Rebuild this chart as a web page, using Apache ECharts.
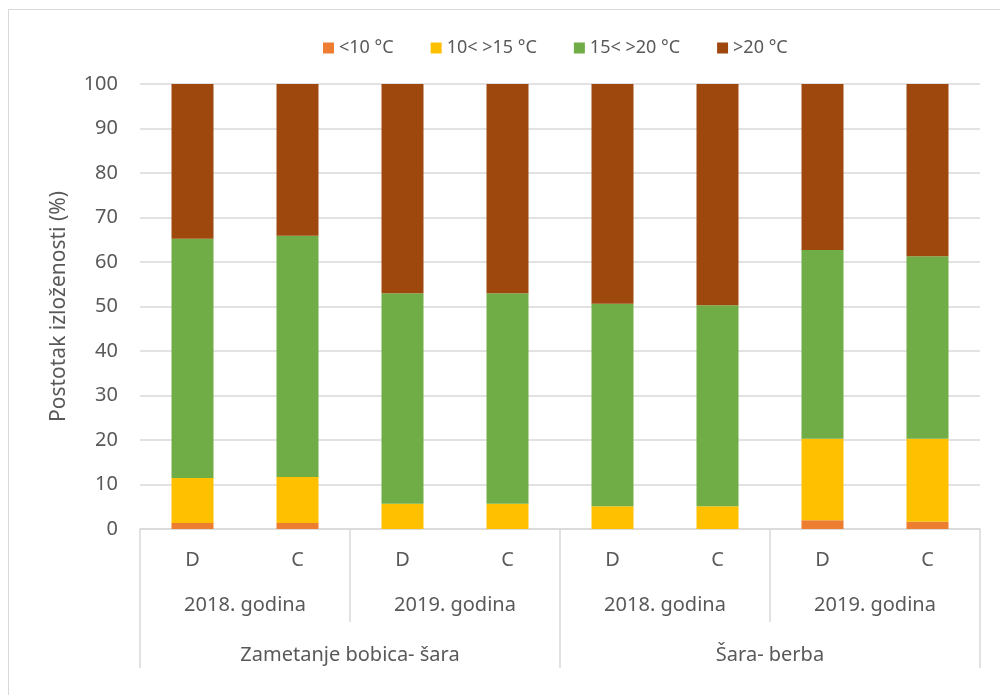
<!DOCTYPE html>
<html>
<head>
<meta charset="utf-8">
<script src="https://cdn.jsdelivr.net/npm/echarts@6/dist/echarts.min.js"></script>
<style>
html,body{margin:0;padding:0;background:#fff;}
#frame{position:absolute;left:8px;top:9px;width:1010px;height:710px;border:1.5px solid #d9d9d9;box-sizing:border-box;}
#chart{position:absolute;left:0;top:0;width:1000px;height:695px;}
</style>
</head>
<body>
<div id="frame"></div>
<div id="chart"></div>
<script>
const treatments = ['D','C','D','C','D','C','D','C'];
const years = ['2018. godina','2019. godina','2018. godina','2019. godina'];
const phases = ['Zametanje bobica- šara','Šara- berba'];
const seriesNames = ['<10 °C','10< >15 °C','15< >20 °C','>20 °C'];
const below10 = [1.35,1.35,0,0,0,0,1.95,1.65];
const from10to15 = [10.1,10.35,5.7,5.7,5.1,5.1,18.35,18.65];
const from15to20 = [53.8,54.2,47.3,47.3,45.5,45.2,42.4,41.0];
const above20 = [34.75,34.1,47.0,47.0,49.4,49.7,37.3,38.7];
const yTicks = [0,10,20,30,40,50,60,70,80,90,100];

const colors = ['#ED7D31','#FFC000','#70AD47','#9E480E'];
const font = 'Noto Sans';
const txt = '#595959';
const line = '#d9d9d9';

const chart = echarts.init(document.getElementById('chart'));
const vals = [below10, from10to15, from15to20, above20];
chart.setOption({
  animation:false,
  textStyle:{fontFamily:font},
  legend:{
    left:318, top:34, itemWidth:11, itemHeight:11, itemGap:37,
    icon:'rect',
    textStyle:{fontFamily:font,fontSize:18,color:txt},
    data:seriesNames
  },
  grid:{left:140,right:20,top:84,bottom:166},
  xAxis:[
    {type:'category',data:treatments,position:'bottom',
     axisLine:{show:true,lineStyle:{color:line,width:1.5}},
     axisTick:{show:false},
     axisLabel:{color:txt,fontSize:20,fontFamily:font,margin:21,interval:0}},
    {type:'category',data:years,position:'bottom',
     axisLine:{show:false},
     axisTick:{show:true,length:93,alignWithLabel:false,interval:0,lineStyle:{color:line,width:1.5}},
     axisLabel:{color:txt,fontSize:20,fontFamily:font,margin:66,interval:0}},
    {type:'category',data:phases,position:'bottom',
     axisLine:{show:false},
     axisTick:{show:true,length:139,alignWithLabel:false,interval:0,lineStyle:{color:line,width:1.5}},
     axisLabel:{color:txt,fontSize:20,fontFamily:font,margin:116,interval:0}}
  ],
  yAxis:{
    type:'value',min:yTicks[0],max:yTicks[yTicks.length-1],interval:10,
    name:'Postotak izloženosti (%)',nameLocation:'middle',nameGap:70,
    nameTextStyle:{color:txt,fontSize:21,fontFamily:font},
    axisLine:{show:false},axisTick:{show:false},
    axisLabel:{color:txt,fontSize:20,fontFamily:font,margin:22},
    splitLine:{lineStyle:{color:line,width:1.5}}
  },
  series:seriesNames.map((n,i)=>({
    name:n,type:'bar',stack:'t',xAxisIndex:0,barWidth:42,
    itemStyle:{color:colors[i]},
    data:vals[i]
  }))
});
</script>
</body>
</html>
